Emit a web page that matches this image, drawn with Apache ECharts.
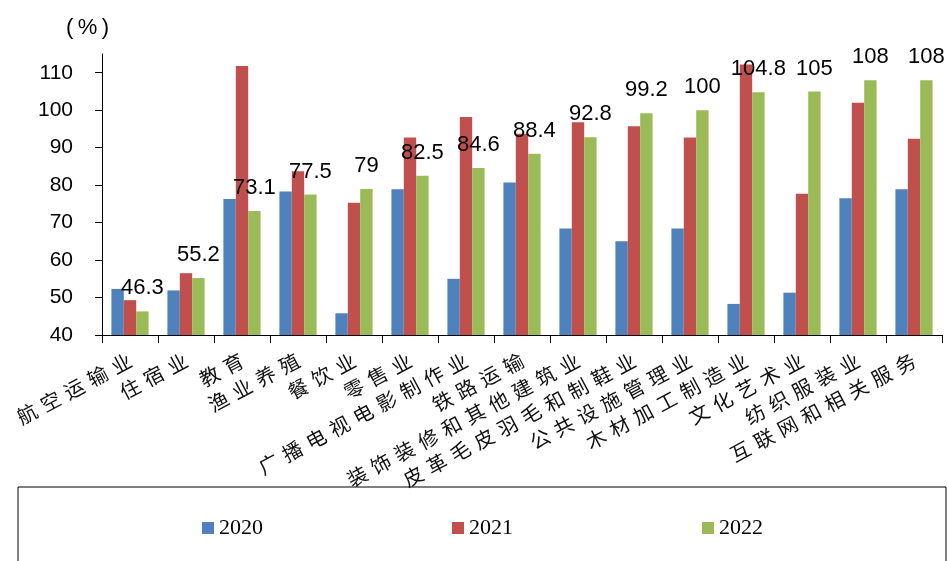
<!DOCTYPE html>
<html>
<head>
<meta charset="utf-8">
<script src="https://cdn.jsdelivr.net/npm/echarts@6/dist/echarts.min.js"></script>
<style>html,body{margin:0;padding:0;background:#fff;}#c{width:947px;height:561px;}</style>
</head>
<body>
<div id="c"></div>
<script>
const categories = ['航空运输业','住宿业','教育','渔业养殖','餐饮业','零售业','广播电视电影制作业','铁路运输','装饰装修和其他建筑业','皮革毛皮羽毛和制鞋业','公共设施管理业','木材加工制造业','文化艺术业','纺织服装业','互联网和相关服务'];
const seriesNames = ['2020','2021','2022'];
const values2020 = [52.3, 51.9, 76.3, 78.3, 45.8, 78.9, 55.0, 80.7, 68.4, 65.0, 68.4, 48.3, 51.3, 76.5, 78.9];
const values2021 = [49.3, 56.5, 111.8, 83.7, 75.3, 92.7, 98.2, 93.7, 96.8, 95.7, 92.7, 112.2, 77.7, 102.0, 92.4];
const values2022 = [46.3, 55.2, 73.1, 77.5, 79, 82.5, 84.6, 88.4, 92.8, 99.2, 100, 104.8, 105, 108, 108];
const yTicks = [40, 50, 60, 70, 80, 90, 100, 110];
const colors = ['#4F81BD', '#C0504D', '#9BBB59'];

const chart = echarts.init(document.getElementById('c'));
const barBase = {type: 'bar', barWidth: 12.4, barGap: '0%'};
chart.setOption({
  animation: false,
  color: colors,
  title: {
    text: '(\u2009%\u2009)',
    left: 61, top: 12,
    textStyle: {fontFamily: 'Liberation Sans, Arial', fontSize: 22, fontWeight: 'normal', color: '#000'}
  },
  grid: {left: 102, right: 5, top: 54, bottom: 226, containLabel: false},
  xAxis: {
    type: 'category',
    data: categories,
    boundaryGap: true,
    axisLine: {lineStyle: {color: '#000', width: 1}},
    axisTick: {show: true, length: 8, alignWithLabel: false, lineStyle: {color: '#000'}},
    axisLabel: {
      interval: 0, rotate: 28, margin: 24,
      fontFamily: 'Noto Sans CJK SC', fontSize: 20, color: '#111',
      formatter: function (v) { return v.split('').join('\u2004'); }
    },
    splitLine: {show: false}
  },
  yAxis: {
    type: 'value',
    min: 40, max: 115, interval: 10,
    axisLine: {show: true, lineStyle: {color: '#000', width: 1}},
    axisTick: {show: true, length: 7, inside: false, customValues: yTicks, lineStyle: {color: '#000'}},
    axisLabel: {margin: 29, fontFamily: 'Liberation Sans, Arial', fontSize: 21, color: '#000', customValues: yTicks},
    splitLine: {show: false}
  },
  legend: {
    data: seriesNames,
    left: 197, top: 512,
    itemWidth: 12, itemHeight: 12, itemGap: 189,
    icon: 'rect',
    textStyle: {fontFamily: 'Liberation Serif, Times New Roman', fontSize: 22, color: '#000'}
  },
  graphic: [{
    type: 'rect',
    shape: {x: 18, y: 487, width: 928, height: 90},
    style: {fill: 'none', stroke: '#000', lineWidth: 1},
    silent: true, z: -1
  }],
  series: [
    Object.assign({}, barBase, {name: seriesNames[0], data: values2020}),
    Object.assign({}, barBase, {name: seriesNames[1], data: values2021}),
    Object.assign({}, barBase, {name: seriesNames[2], data: values2022,
      label: {show: true, position: 'top', distance: 12, fontFamily: 'Liberation Sans, Arial', fontSize: 22, color: '#000'}})
  ]
});
</script>
</body>
</html>
